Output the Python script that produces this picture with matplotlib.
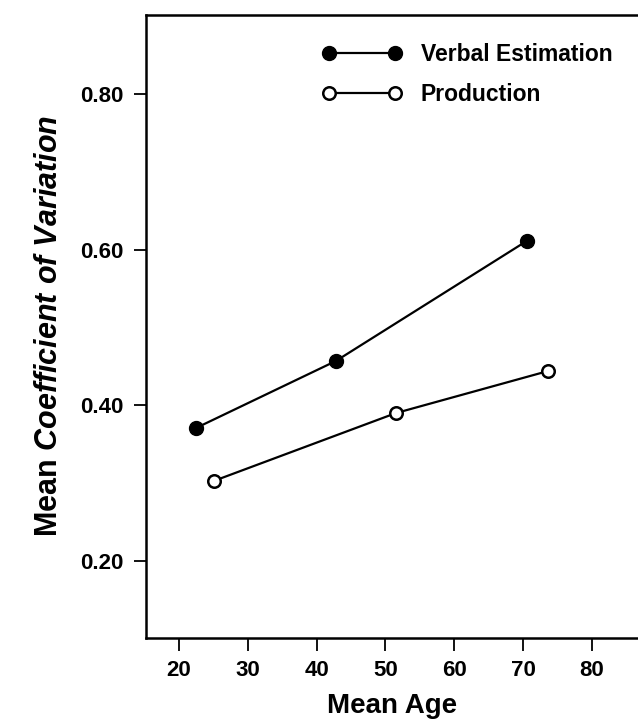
import matplotlib
matplotlib.use("Agg")
import matplotlib.pyplot as plt

# datos
edad_verbal = [22.5, 42.8, 70.5]
cv_verbal = [0.371, 0.457, 0.611]
edad_prod = [25.1, 51.5, 73.6]
cv_prod = [0.303, 0.390, 0.444]

xticks = [20, 30, 40, 50, 60, 70, 80]
yticks = [0.20, 0.40, 0.60, 0.80]

plt.rcParams['font.family'] = ['Liberation Sans', 'DejaVu Sans']
plt.rcParams['font.weight'] = 'bold'
plt.rcParams['mathtext.fontset'] = 'custom'
plt.rcParams['mathtext.it'] = 'Liberation Sans:style=italic:weight=bold'
plt.rcParams['mathtext.bfit'] = 'Liberation Sans:style=italic:weight=bold'
plt.rcParams['mathtext.rm'] = 'Liberation Sans:weight=bold'

fig = plt.figure(figsize=(6.38, 7.23), dpi=100)
ax = fig.add_axes([146/638, 1 - 637.5/723, 1 - 146/638, (637.5 - 15)/723])

ax.plot(edad_verbal, cv_verbal, color='black', lw=1.6, marker='o', ms=10,
        mfc='black', mec='black', label='Verbal Estimation')
ax.plot(edad_prod, cv_prod, color='black', lw=1.6, marker='o', ms=9,
        mfc='white', mec='black', mew=1.8, label='Production')

ax.set_xlim(15.2, 86.7)
ax.set_ylim(0.1017, 0.9015)
ax.set_xticks(xticks)
ax.set_yticks(yticks)
ax.set_yticklabels([f'{v:.2f}' for v in yticks])
ax.tick_params(direction='out', length=9, width=1.3, labelsize=16, pad=7)
ax.spines['right'].set_visible(False)
for s in ['left', 'bottom', 'top']:
    ax.spines[s].set_linewidth(1.8)

ax.set_xlabel('Mean Age', fontsize=20, fontweight='bold', labelpad=9)
ax.set_ylabel(r'Mean $\mathbfit{Coefficient\ of\ Variation}$', fontsize=22,
              fontweight='bold', labelpad=12)

ax.legend(loc='upper left', bbox_to_anchor=(322/638, 1 - 43/723),
          bbox_transform=fig.transFigure, frameon=False, numpoints=2,
          handlelength=3.5, handletextpad=0.8, labelspacing=0.75,
          borderpad=0, borderaxespad=0, fontsize=16.5)

fig.savefig('out.png', dpi=100)
